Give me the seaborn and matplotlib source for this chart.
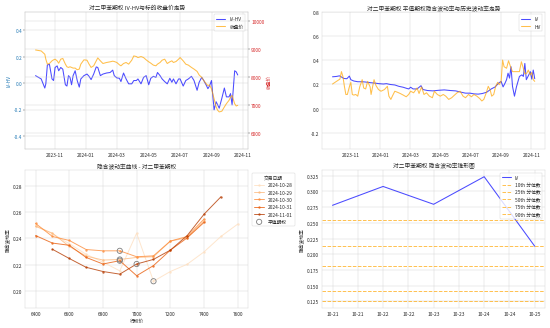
import matplotlib
matplotlib.use("Agg")
import matplotlib.pyplot as plt
import matplotlib.dates as mdates
import pandas as pd
import seaborn as sns

sns.set_style("whitegrid")
plt.rcParams["font.family"] = ["Noto Sans CJK SC", "DejaVu Sans"]
plt.rcParams["axes.unicode_minus"] = False
plt.rcParams["lines.linewidth"] = 2.2

# ---- IV-HV spread and underlying close ----
spread_dates = ["2023-09-25", "2023-10-06", "2023-10-13", "2023-10-15", "2023-10-18", "2023-10-22", "2023-10-27", "2023-10-30", "2023-11-02", "2023-11-06",
                "2023-11-09", "2023-11-13", "2023-11-17", "2023-11-22", "2023-11-25", "2023-11-28", "2023-12-01", "2023-12-04", "2023-12-07", "2023-12-11",
                "2023-12-15", "2023-12-19", "2023-12-22", "2023-12-28", "2024-01-03", "2024-01-07", "2024-01-11", "2024-01-16", "2024-01-21", "2024-01-24",
                "2024-01-29", "2024-02-03", "2024-02-10", "2024-02-17", "2024-02-22", "2024-02-25", "2024-03-01", "2024-03-06", "2024-03-09", "2024-03-14",
                "2024-03-19", "2024-03-24", "2024-03-30", "2024-04-03", "2024-04-08", "2024-04-11", "2024-04-17", "2024-04-22", "2024-04-27", "2024-05-02",
                "2024-05-06", "2024-05-11", "2024-05-16", "2024-05-19", "2024-05-24", "2024-05-28", "2024-06-02", "2024-06-07", "2024-06-12", "2024-06-16",
                "2024-06-19", "2024-06-24", "2024-06-29", "2024-07-02", "2024-07-08", "2024-07-13", "2024-07-18", "2024-07-24", "2024-07-29", "2024-08-04",
                "2024-08-08", "2024-08-13", "2024-08-17", "2024-08-22", "2024-08-25", "2024-08-28", "2024-09-01", "2024-09-04", "2024-09-06", "2024-09-10",
                "2024-09-13", "2024-09-16", "2024-09-21", "2024-09-26", "2024-09-30", "2024-10-05", "2024-10-08", "2024-10-11", "2024-10-16", "2024-10-19",
                "2024-10-22"]
iv_hv = [0.057, 0.032, -0.037, -0.005, 0.138, 0.143, 0.032, 0.020, 0.119, 0.131,
         0.094, 0.119, 0.106, -0.012, -0.022, 0.057, 0.044, -0.012, 0.057, 0.094,
         0.020, -0.030, 0.032, 0.057, 0.069, 0.052, 0.027, 0.069, 0.123, 0.119,
         0.057, 0.069, 0.077, 0.081, 0.099, 0.057, 0.040, 0.037, 0.012, 0.077,
         0.032, -0.005, -0.005, 0.020, 0.020, 0.032, -0.005, 0.044, 0.057, -0.012,
         0.037, 0.052, 0.044, 0.081, 0.057, 0.032, 0.012, -0.005, 0.037, 0.007,
         0.032, -0.005, 0.032, 0.032, -0.022, 0.020, 0.032, 0.052, 0.020, -0.054,
         0.007, 0.044, 0.020, -0.017, -0.042, -0.022, 0.020, -0.116, -0.202, -0.141,
         -0.165, -0.190, -0.116, -0.037, -0.104, -0.104, -0.079, -0.165, 0.094, 0.086,
         0.062]
close_price = [8953, 8918, 8800, 8624, 8447, 8470, 8565, 8600, 8624, 8565,
               8480, 8624, 8650, 8447, 8353, 8330, 8353, 8330, 8306, 8306,
               8247, 8270, 8447, 8600, 8588, 8447, 8330, 8388, 8565, 8670,
               8565, 8470, 8506, 8530, 8553, 8541, 8506, 8424, 8388, 8470,
               8506, 8447, 8588, 8741, 8718, 8682, 8718, 8682, 8600, 8530,
               8482, 8412, 8388, 8447, 8506, 8588, 8624, 8470, 8530, 8565,
               8506, 8541, 8624, 8682, 8565, 8447, 8412, 8330, 8270, 8188,
               8059, 7976, 7859, 7741, 7682, 7706, 7565, 7353, 7212, 6918,
               6800, 6741, 6765, 6918, 7035, 7153, 7271, 7329, 7035, 6953,
               6976]

# ---- ATM implied vol vs. historical vol ----
iv_dates = ["2023-09-26", "2023-10-04", "2023-10-10", "2023-10-15", "2023-10-19", "2023-10-25", "2023-10-30", "2023-11-02", "2023-11-08", "2023-11-16",
            "2023-11-25", "2023-12-03", "2023-12-12", "2023-12-20", "2023-12-29", "2024-01-07", "2024-01-13", "2024-01-21", "2024-01-30", "2024-02-07",
            "2024-02-16", "2024-02-22", "2024-02-27", "2024-03-02", "2024-03-07", "2024-03-15", "2024-03-23", "2024-03-27", "2024-04-05", "2024-04-16",
            "2024-04-28", "2024-05-09", "2024-05-21", "2024-06-01", "2024-06-12", "2024-06-21", "2024-06-30", "2024-07-08", "2024-07-17", "2024-07-25",
            "2024-08-03", "2024-08-12", "2024-08-20", "2024-08-27", "2024-09-01", "2024-09-05", "2024-09-09", "2024-09-12", "2024-09-15", "2024-09-18",
            "2024-09-21", "2024-09-24", "2024-09-28", "2024-10-02", "2024-10-08", "2024-10-13", "2024-10-16", "2024-10-19", "2024-10-22", "2024-10-26",
            "2024-10-30", "2024-11-02", "2024-11-05", "2024-11-08"]
iv_atm = [0.264, 0.267, 0.272, 0.260, 0.250, 0.248, 0.270, 0.240, 0.229, 0.223,
          0.223, 0.220, 0.215, 0.212, 0.207, 0.204, 0.207, 0.200, 0.196, 0.185,
          0.177, 0.169, 0.163, 0.177, 0.163, 0.163, 0.190, 0.158, 0.150, 0.147,
          0.152, 0.155, 0.150, 0.147, 0.136, 0.128, 0.128, 0.122, 0.120, 0.125,
          0.136, 0.163, 0.180, 0.212, 0.226, 0.180, 0.212, 0.240, 0.294, 0.253,
          0.348, 0.185, 0.103, 0.180, 0.267, 0.280, 0.267, 0.375, 0.240, 0.272,
          0.307, 0.245, 0.320, 0.248]
hv_dates = ["2023-09-26", "2023-10-04", "2023-10-11", "2023-10-14", "2023-10-17", "2023-10-20", "2023-10-23", "2023-10-26", "2023-10-30", "2023-11-02",
            "2023-11-05", "2023-11-08", "2023-11-12", "2023-11-16", "2023-11-20", "2023-11-25", "2023-11-28", "2023-12-02", "2023-12-06", "2023-12-11",
            "2023-12-13", "2023-12-16", "2023-12-19", "2023-12-23", "2023-12-28", "2024-01-02", "2024-01-09", "2024-01-15", "2024-01-18", "2024-01-22",
            "2024-01-25", "2024-01-30", "2024-02-04", "2024-02-10", "2024-02-16", "2024-02-22", "2024-02-27", "2024-03-02", "2024-03-08", "2024-03-15",
            "2024-03-19", "2024-03-24", "2024-03-29", "2024-04-03", "2024-04-09", "2024-04-15", "2024-04-19", "2024-04-25", "2024-05-01", "2024-05-07",
            "2024-05-12", "2024-05-18", "2024-05-24", "2024-05-29", "2024-06-04", "2024-06-10", "2024-06-16", "2024-06-21", "2024-06-27", "2024-07-03",
            "2024-07-08", "2024-07-14", "2024-07-20", "2024-07-24", "2024-07-28", "2024-08-02", "2024-08-06", "2024-08-10", "2024-08-13", "2024-08-17",
            "2024-08-21", "2024-08-25", "2024-08-28", "2024-09-01", "2024-09-04", "2024-09-07", "2024-09-12", "2024-09-16", "2024-09-20", "2024-09-24",
            "2024-10-02", "2024-10-08", "2024-10-12", "2024-10-15", "2024-10-19", "2024-10-23", "2024-10-26", "2024-10-30", "2024-11-02", "2024-11-05",
            "2024-11-08"]
hv = [0.204, 0.226, 0.245, 0.307, 0.267, 0.185, 0.117, 0.117, 0.180, 0.218,
      0.117, 0.112, 0.117, 0.103, 0.180, 0.240, 0.171, 0.163, 0.226, 0.180,
      0.117, 0.180, 0.240, 0.190, 0.158, 0.144, 0.158, 0.185, 0.103, 0.076,
      0.103, 0.144, 0.136, 0.125, 0.112, 0.098, 0.117, 0.144, 0.131, 0.171,
      0.125, 0.180, 0.117, 0.131, 0.103, 0.090, 0.144, 0.117, 0.103, 0.117,
      0.103, 0.076, 0.090, 0.109, 0.131, 0.144, 0.103, 0.090, 0.117, 0.098,
      0.117, 0.103, 0.082, 0.063, 0.076, 0.131, 0.185, 0.152, 0.103, 0.117,
      0.185, 0.218, 0.199, 0.226, 0.403, 0.348, 0.335, 0.397, 0.348, 0.307,
      0.307, 0.307, 0.389, 0.348, 0.288, 0.294, 0.320, 0.280, 0.300, 0.240,
      0.226]

# ---- volatility smile by trade date ----
smile_dates = ["2024-10-28", "2024-10-29", "2024-10-30", "2024-10-31", "2024-11-01"]
strikes_1028 = [6400, 6500, 6600, 6700, 6800, 6900, 7000, 7100, 7200, 7300, 7400, 7500, 7600]
vol_1028 = [0.2500, 0.2435, 0.2360, 0.2280, 0.2220, 0.2154, 0.2440, 0.2075, 0.2149, 0.2204, 0.2298, 0.2415, 0.2509]
strikes_1029 = [6400, 6500, 6600, 6700, 6800, 6900, 7000, 7100, 7200, 7300, 7400]
vol_1029 = [0.2492, 0.2440, 0.2340, 0.2266, 0.2236, 0.2240, 0.2256, 0.2261, 0.2380, 0.2405, 0.2534]
strikes_1030 = [6400, 6500, 6600, 6700, 6800, 6900, 7000, 7100, 7200, 7300, 7400]
vol_1030 = [0.2514, 0.2415, 0.2385, 0.2316, 0.2306, 0.2306, 0.2261, 0.2268, 0.2380, 0.2415, 0.2547]
strikes_1031 = [6400, 6500, 6600, 6700, 6800, 6900, 7000, 7100, 7200, 7300, 7400]
vol_1031 = [0.2422, 0.2365, 0.2348, 0.2256, 0.2206, 0.2231, 0.2117, 0.2194, 0.2311, 0.2405, 0.2522]
strikes_1101 = [6500, 6600, 6700, 6800, 6900, 7000, 7100, 7200, 7300, 7400, 7500]
vol_1101 = [0.2318, 0.2248, 0.2181, 0.2149, 0.2129, 0.2206, 0.2241, 0.2311, 0.2422, 0.2584, 0.2716]
atm_strikes = [7100, 6900, 6900, 6900, 7000]

# ---- recent IV against its historical quantiles ----
cone_dates = ["2024-10-21", "2024-10-22", "2024-10-23", "2024-10-24", "2024-10-25"]
cone_iv = [0.278, 0.308, 0.2796, 0.3235, 0.2128]
quantile_names = ["10th", "25th", "50th", "75th", "90th"]
quantile_values = [0.125, 0.142, 0.182, 0.2128, 0.2545]

fig, axes = plt.subplots(2, 2, figsize=(16, 9.57), dpi=34.375)
ax1, ax2, ax3, ax4 = axes.ravel()

# Panel 1: spread with close price on a twin axis
df1 = pd.DataFrame({"date": pd.to_datetime(spread_dates), "ivhv": iv_hv, "close": close_price})
sns.lineplot(data=df1, x="date", y="ivhv", ax=ax1, color="blue", alpha=0.7, label="IV-HV", legend=False)
ax1.set_ylabel("IV-HV", color="tab:blue")
ax1.set_xlabel("")
ax1.tick_params(axis="y", labelcolor="tab:blue", left=True)
ax1.set_ylim(-0.50, 0.54)
ax1b = ax1.twinx()
sns.lineplot(data=df1, x="date", y="close", ax=ax1b, color="orange", alpha=0.7, label="收盘价", legend=False)
ax1b.set_ylabel("收盘价", color="tab:red")
ax1b.tick_params(axis="y", labelcolor="tab:red", right=True)
ax1b.set_ylim(5414, 10310)
h1, l1 = ax1.get_legend_handles_labels()
h2, l2 = ax1b.get_legend_handles_labels()
ax1.legend(h1 + h2, l1 + l2, loc="upper right")
ax1.set_title("对二甲苯期权 IV-HV与标的收盘价走势")
ax1.xaxis.set_major_formatter(mdates.DateFormatter("%Y-%m"))

# Panel 2: ATM IV and HV
df_iv = pd.DataFrame({"date": pd.to_datetime(iv_dates), "v": iv_atm})
df_hv = pd.DataFrame({"date": pd.to_datetime(hv_dates), "v": hv})
sns.lineplot(data=df_iv, x="date", y="v", ax=ax2, color="blue", alpha=0.7, label="IV")
sns.lineplot(data=df_hv, x="date", y="v", ax=ax2, color="orange", alpha=0.7, label="HV")
lo = min(min(iv_atm), min(hv))
hi = max(max(iv_atm), max(hv))
ax2.set_ylim(lo - 0.4, hi + 0.4)
ax2.set_xlabel("")
ax2.set_ylabel("")
ax2.legend(loc="upper right")
ax2.set_title("对二甲苯期权 平值期权隐含波动率与历史波动率走势")
ax2.xaxis.set_major_formatter(mdates.DateFormatter("%Y-%m"))

# Panel 3: smile curves
smile_frames = []
for d, k, v in zip(smile_dates,
                   [strikes_1028, strikes_1029, strikes_1030, strikes_1031, strikes_1101],
                   [vol_1028, vol_1029, vol_1030, vol_1031, vol_1101]):
    smile_frames.append(pd.DataFrame({"交易日期": d, "strike": k, "iv": v}))
df3 = pd.concat(smile_frames, ignore_index=True)
palette = sns.color_palette("Oranges", len(smile_dates))
sns.lineplot(data=df3, x="strike", y="iv", hue="交易日期", palette=palette, marker="o",
             markersize=5, markeredgewidth=0, alpha=0.8, linewidth=2, ax=ax3)
atm = pd.concat([df3[(df3["交易日期"] == d) & (df3["strike"] == k)] for d, k in zip(smile_dates, atm_strikes)])
ax3.scatter(atm["strike"], atm["iv"], s=120, facecolors="none", edgecolors="gray", linewidths=1.8, label="平值期权", zorder=5)
ax3.set_ylim(df3["iv"].min() - 0.02, df3["iv"].max() + 0.02)
ax3.set_xlabel("行权价")
ax3.set_ylabel("隐含波动率")
ax3.set_title("隐含波动率曲线 - 对二甲苯期权")
ax3.legend(title="交易日期", bbox_to_anchor=(1.01, 1), loc="upper left")

# Panel 4: IV cone
df4 = pd.DataFrame({"date": pd.to_datetime(cone_dates), "iv": cone_iv})
sns.lineplot(data=df4, x="date", y="iv", ax=ax4, color="blue", alpha=0.7, label="IV")
for name, q in zip(quantile_names, quantile_values):
    ax4.axhline(q, color="orange", linestyle="--", alpha=0.7, linewidth=2, label=f"{name} 分位数")
ax4.set_xlabel("")
ax4.set_ylabel("隐含波动率")
ax4.set_title("对二甲苯期权 隐含波动率锥形图")
ax4.xaxis.set_major_formatter(mdates.DateFormatter("%m-%d"))
ax4.legend(loc="upper right")

fig.tight_layout()
fig.savefig("out.png", dpi=34.375)
